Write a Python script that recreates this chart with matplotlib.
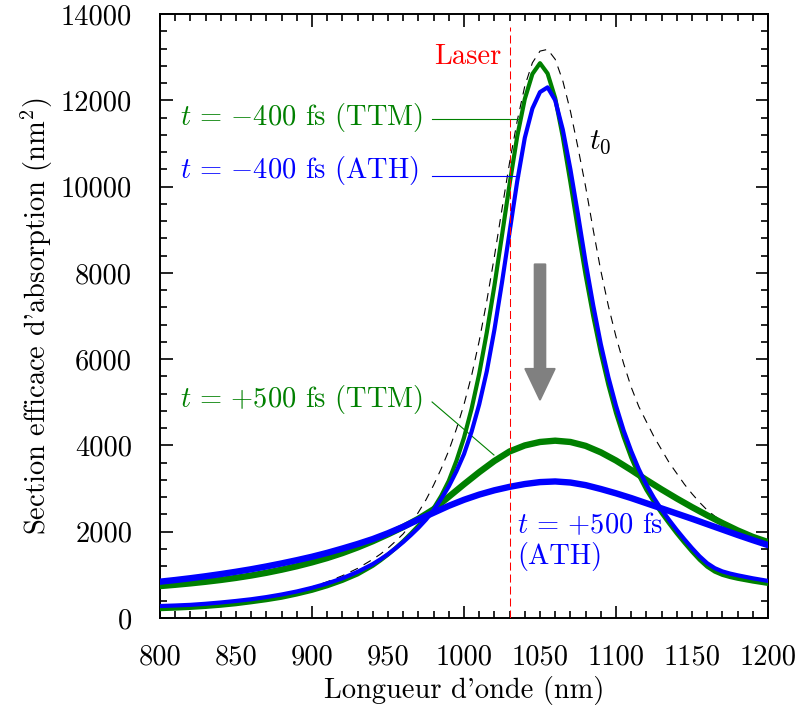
import matplotlib
matplotlib.use("Agg")
import matplotlib.pyplot as plt
from matplotlib.ticker import MultipleLocator, FuncFormatter
from matplotlib.patches import FancyArrowPatch

plt.rcParams['font.family'] = 'serif'
plt.rcParams['font.serif'] = ['cmr10']
plt.rcParams['mathtext.fontset'] = 'cm'
plt.rcParams['axes.unicode_minus'] = False
plt.rcParams['axes.formatter.use_mathtext'] = True

# ---- data ----
wl_narrow = [800, 810, 820, 830, 840, 850, 860, 870, 880, 890, 900, 910, 920, 930,
             940, 945, 950, 955, 960, 965, 970, 975, 980, 985, 990, 995, 1000,
             1005, 1010, 1015, 1020, 1025, 1030, 1035, 1040, 1045, 1050, 1055,
             1060, 1065, 1070, 1075, 1080, 1085, 1090, 1095, 1100, 1105, 1110,
             1115, 1120, 1125, 1130, 1135, 1140, 1145, 1150, 1155, 1160, 1165,
             1170, 1175, 1180, 1190, 1200]

t0 = [250, 268, 285, 312, 340, 380, 425, 480, 545, 625, 720, 840, 980, 1150,
      1360, 1480, 1620, 1780, 1950, 2180, 2450, 2740, 3080, 3460, 3880, 4380, 4950,
      5620, 6420, 7350, 8380, 9480, 10560, 11520, 12330, 12870, 13140, 13180,
      12950, 12450, 11750, 10900, 10000, 9000, 8050, 7230, 6520, 5900, 5350,
      4900, 4550, 4200, 3900, 3600, 3350, 3100, 2880, 2680, 2500, 2360,
      2240, 2140, 2050, 1900, 1780]

ttm_m400 = [205, 218, 235, 257, 285, 320, 365, 413, 470, 545, 630, 735, 860, 1010,
            1210, 1335, 1470, 1620, 1780, 1955, 2140, 2320, 2540, 2830, 3180, 3640, 4180,
            4850, 5660, 6620, 7700, 8870, 10060, 11160, 12030, 12610, 12860, 12620,
            12050, 11150, 10100, 9000, 7950, 7000, 6150, 5400, 4750, 4200, 3720,
            3310, 2970, 2690, 2430, 2190, 1960, 1745, 1540, 1350, 1190, 1075,
            1000, 950, 910, 845, 790]

ath_m400 = [278, 290, 305, 330, 360, 395, 435, 485, 545, 615, 700, 800, 920, 1070,
            1250, 1360, 1480, 1615, 1760, 1920, 2090, 2280, 2500, 2760, 3050, 3400, 3800,
            4320, 4950, 5720, 6680, 7780, 8950, 10120, 11130, 11810, 12190, 12300,
            12000, 11320, 10400, 9350, 8250, 7250, 6350, 5580, 4920, 4350, 3870,
            3450, 3090, 2780, 2510, 2270, 2040, 1825, 1620, 1430, 1270, 1155,
            1080, 1030, 990, 920, 860]

wl_broad = [800, 810, 820, 830, 840, 850, 860, 870, 880, 890, 900, 910, 920, 930,
            940, 950, 960, 970, 980, 990, 1000, 1010, 1020, 1030, 1040, 1050, 1060,
            1070, 1080, 1090, 1100, 1110, 1120, 1130, 1140, 1150, 1160, 1170, 1180,
            1190, 1200]

ttm_p500 = [740, 770, 803, 840, 882, 930, 985, 1048, 1120, 1200, 1290, 1390, 1505, 1635,
            1780, 1940, 2110, 2300, 2520, 2810, 3100, 3380, 3640, 3860, 4000, 4080, 4110,
            4080, 3990, 3840, 3650, 3430, 3200, 2980, 2770, 2570, 2380, 2200, 2030,
            1880, 1760]

ath_p500 = [842, 880, 922, 968, 1018, 1072, 1130, 1195, 1265, 1340, 1420, 1510, 1610, 1715,
            1830, 1965, 2115, 2280, 2440, 2600, 2740, 2860, 2960, 3040, 3105, 3150, 3165,
            3140, 3080, 2990, 2890, 2780, 2660, 2540, 2420, 2300, 2175, 2050, 1925,
            1805, 1690]

laser_wl = 1030

label_m400_ttm = r"$t\,=\,{-}400$ fs (TTM)"
label_m400_ath = r"$t\,=\,{-}400$ fs (ATH)"
label_p500_ttm = r"$t\,=\,{+}500$ fs (TTM)"
label_p500_ath = "$t\\,=\\,{+}500$ fs\n(ATH)"

GREEN = "#008000"
BLUE = "#0000FF"

fig = plt.figure(figsize=(8.0, 7.15), dpi=100)
ax = fig.add_axes([0.2, 1 - 618 / 715, 0.76, (618 - 14) / 715])

ax.plot(wl_narrow, t0, color="black", lw=0.8, ls=(0, (7.5, 6.0)), zorder=2)
ax.plot(wl_broad, ttm_p500, color=GREEN, lw=4.6, zorder=3)
ax.plot(wl_narrow, ttm_m400, color=GREEN, lw=3.0, zorder=3)
ax.plot(wl_broad, ath_p500, color=BLUE, lw=4.6, zorder=4)
ax.plot(wl_narrow, ath_m400, color=BLUE, lw=3.0, zorder=4)

ax.plot([laser_wl, laser_wl], [0, 13700], color="#FF0000", lw=0.75,
        ls=(0, (7.7, 3.8)), zorder=5)

fs = 20.5
ax.text(1024.5, 13000, "Laser", color="#FF0000", fontsize=fs, ha="right", va="center")
ax.text(1089.5, 11033, r"$t_0$", color="black", fontsize=fs + 1, ha="center", va="center")

ax.text(813, 11590, label_m400_ttm, color=GREEN, fontsize=fs, ha="left", va="center")
ax.plot([979, 1036.2], [11566, 11566], color=GREEN, lw=0.8, zorder=3)
ax.text(813, 10361, label_m400_ath, color=BLUE, fontsize=fs, ha="left", va="center")
ax.plot([979, 1036.2], [10245, 10245], color=BLUE, lw=0.8, zorder=3)
ax.text(813, 5053, label_p500_ttm, color=GREEN, fontsize=fs, ha="left", va="center")
ax.plot([979, 1019.7], [5007, 3778], color=GREEN, lw=0.8, zorder=3)
ax.text(1035.0, 1770, label_p500_ath, color=BLUE, fontsize=fs, ha="left", va="center",
        linespacing=1.1)

arrow = FancyArrowPatch((1050, 8260), (1050, 5000),
                        arrowstyle="simple,head_width=1.05,head_length=1.1,tail_width=0.38",
                        mutation_scale=20, color="#808080", lw=1.5, joinstyle="round",
                        zorder=6)
ax.add_patch(arrow)

ax.set_xlim(800, 1200)
ax.set_ylim(0, 14000)
ax.xaxis.set_major_locator(MultipleLocator(100))
ax.xaxis.set_minor_locator(MultipleLocator(10))
ax.xaxis.set_major_formatter(FuncFormatter(lambda v, p: f"{v:.0f}"))
ax.xaxis.set_minor_formatter(FuncFormatter(
    lambda v, p: f"{v:.0f}" if abs(v % 100 - 50) < 1e-6 else ""))
ax.yaxis.set_major_locator(MultipleLocator(2000))
ax.yaxis.set_minor_locator(MultipleLocator(400))
ax.yaxis.set_major_formatter(FuncFormatter(lambda v, p: f"{v:.0f}"))

ax.tick_params(which="both", direction="in", top=True, right=True,
               labelsize=fs, width=1.2)
ax.tick_params(which="major", length=9)
ax.tick_params(which="minor", length=5)
ax.tick_params(axis="x", which="both", pad=19)
ax.tick_params(axis="y", which="both", pad=20)
for s in ax.spines.values():
    s.set_linewidth(1.4)

ax.set_xlabel("Longueur d'onde (nm)", fontsize=fs, labelpad=4)
ax.set_ylabel(r"Section efficace d'absorption (nm$^2$)", fontsize=fs, labelpad=4)

fig.savefig("out.png", dpi=100)
